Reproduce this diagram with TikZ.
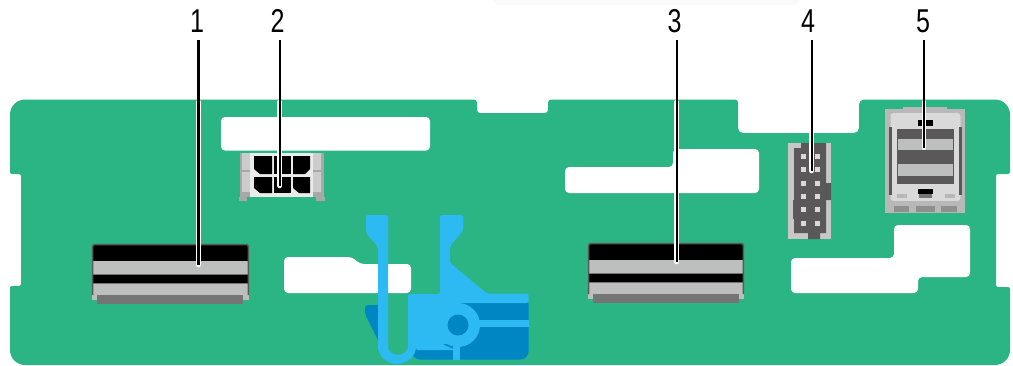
\documentclass[tikz,border=0pt]{standalone}
\usepackage{graphicx}
\usepackage{fontspec}
\setmainfont{Liberation Sans}
\definecolor{boardc}{HTML}{2BB585}
\definecolor{lblue}{HTML}{2DB9F2}
\definecolor{dblue}{HTML}{0086C3}
\definecolor{cgray}{HTML}{BDBFBE}
\definecolor{dgray}{HTML}{5A5858}
\definecolor{mgray}{HTML}{757575}
\definecolor{pgray}{HTML}{8F8F8F}
\definecolor{sgray}{HTML}{A8A8A8}
\definecolor{lgray}{HTML}{D9D9D9}
\tikzset{
  numlabel/.style={inner sep=0pt,anchor=south,text depth=7pt,font=\fontsize{33}{33}\selectfont},
  leaderhalo/.style={draw=white,line width=4.6pt,line cap=round},
  leaderline/.style={draw=black,line width=2.4pt},
  hole/.style={fill=white,rounded corners=4pt},
  pin/.style={fill=lgray}
}
\newcommand{\numtxt}[1]{\scalebox{0.76}[1]{#1}}
\begin{document}
\begin{tikzpicture}[x=1pt,y=-1pt]
\useasboundingbox (0,0) rectangle (1013,365);
% faint band at the top
\fill[black!2] (492,0) -- (800,0) -- (796,5) -- (497,5) -- cycle;
% board
\fill[boardc] (10,140) [rounded corners=15pt] -- (10,99.5) [rounded corners=3pt] -- (477,99.5) -- (477,113) -- (548,113)
  -- (548,99.5) -- (738,99.5) [rounded corners=5pt] -- (738,133) -- (859,133) -- (859,99.5) [rounded corners=15pt] -- (1010,99.5)
  [rounded corners=2pt] -- (1010,174) -- (996,174) -- (996,287) -- (1010,287) [rounded corners=15pt] -- (1010,365) -- (10,365)
  [rounded corners=2pt] -- (10,286) -- (21,286) -- (21,174) -- (10,174) -- cycle;
% holes
\fill[hole] (221,117) rectangle (430,150.5);
\fill[hole] (565,167) -- (673,167) -- (673,149) -- (759,149) -- (759,193) -- (565,193) -- cycle;
\fill[hole] (791,258) -- (894,258) -- (894,225) -- (970,225) -- (970,277) -- (918,277) -- (918,293) -- (791,293) -- cycle;
\fill[hole] (284,257) -- (352,257) -- (360,264) -- (411,264) -- (411,293) -- (284,293) -- cycle;
% latch, dark parts
\fill[dblue,rounded corners=3pt] (365,305) -- (382,305) -- (382,345) -- (379,342) -- (365,314) -- cycle;
\fill[dblue,rounded corners=8pt] (412,296) -- (528.5,296) -- (528.5,359.5) -- (412,359.5) -- cycle;
% latch, light parts
\fill[lblue,rounded corners=2pt] (440,294) -- (440,215) -- (463,215) -- (463,231) -- (450,246) -- (450,263) -- (487,293.5)
  -- (528.5,293.5) -- (528.5,303) -- (458,303) -- (458,344) -- (442,344) -- (456,350) -- (416,350) -- (416,344) -- (408,344) -- (408,294) -- cycle;
\fill[lblue] (458,325) circle (22);
\fill[lblue] (478,320) rectangle (528.5,327);
\fill[lblue] (453,344) rectangle (460,359.5);
\fill[dblue] (458,325) circle (10.5);
\fill[lblue,rounded corners=2pt] (378,247) -- (366,233) -- (366,215) -- (388,215) -- (388,260) -- (388,345)
  arc[start angle=180,end angle=0,radius=10] -- (408,330) -- (416,330) -- (416,345)
  arc[start angle=0,end angle=180,radius=19] -- cycle;
\fill[lblue] (378,246) rectangle (388,345);
% connector 1
\fill[cgray] (92,295) rectangle (249,300);
\fill[cgray] (93,261) rectangle (248,296);
\fill[black] (93,245) rectangle (248,261);
\fill[black] (93,275) rectangle (248,283);
\draw[mgray,line width=1pt] (93,274.5) -- (248,274.5) (93,283.5) -- (248,283.5);
\draw[dgray,line width=1.5pt,rounded corners=2pt] (92.7,295) -- (92.7,244.5) -- (248.3,244.5) -- (248.3,295);
\fill[mgray] (97,295) rectangle (243,304);
% connector 3
\fill[cgray] (588,294) rectangle (744,299);
\fill[cgray] (589,260) rectangle (743,295);
\fill[black] (589,244) rectangle (743,260);
\fill[black] (589,274) rectangle (743,282);
\draw[mgray,line width=1pt] (589,273.5) -- (743,273.5) (589,282.5) -- (743,282.5);
\draw[dgray,line width=1.5pt,rounded corners=2pt] (588.7,294) -- (588.7,243.5) -- (743.3,243.5) -- (743.3,294);
\fill[mgray] (593,294) rectangle (739,303);
% connector 2
\fill[sgray] (239.5,153) rectangle (324,197);
\fill[sgray] (239,197) rectangle (247,201);
\fill[sgray] (316,197) rectangle (325,201);
\fill[black!20] (242,153) rectangle (250,170);
\fill[black!20] (242,172) rectangle (250,192);
\fill[black!20] (313,153) rectangle (321,170);
\fill[black!20] (313,172) rectangle (321,192);
\fill[black!8] (250,153) rectangle (313,197);
\fill[black] (254,156) -- (272,156) -- (272,174) -- (260,174) -- (254,169) -- cycle;
\fill[black] (274,156) -- (291,156) -- (291,174) -- (274,174) -- cycle;
\fill[black] (293,156) -- (310,156) -- (310,169) -- (305,174) -- (293,174) -- cycle;
\fill[black] (254,177) -- (272,177) -- (272,193) -- (260,193) -- (254,188) -- cycle;
\fill[black] (274,177) -- (291,177) -- (291,193) -- (274,193) -- cycle;
\fill[black] (293,177) -- (310,177) -- (310,193) -- (299,193) -- (293,188) -- cycle;
% connector 4
\fill[black!22] (788,143) rectangle (831,239);
\fill[dgray] (801,143) -- (826,143) -- (826,183) -- (831,183) -- (831,200) -- (826,200) -- (826,233) -- (820,233) -- (820,239)
  -- (808,239) -- (808,233) -- (794,233) -- (794,219) -- (793,219) -- (793,200) -- (794,200) -- (794,148) -- (801,148) -- cycle;
\foreach \py in {156.3,169.7,183,196.3,209.7,223}{
  \fill[pin] (800.5,\py-2.5) rectangle +(5,5);
  \fill[pin] (814.5,\py-2.5) rectangle +(5,5);
}
% connector 5
\fill[black!28] (885,109) rectangle (965,212.7);
\fill[black!28] (903,107) rectangle (947,110);
\fill[lgray,rounded corners=3pt] (890.5,201) -- (890.5,113) -- (960.5,113) -- (960.5,201) -- cycle;
\fill[dgray] (888.7,127) rectangle (892,195);
\fill[dgray] (959,127) rectangle (962,195);
\fill[dgray] (896.7,129) rectangle (954,184);
\fill[cgray] (898,139.3) rectangle (952.7,150);
\fill[cgray] (898,164.3) rectangle (952.7,175.7);
\fill[black] (917.7,120) rectangle (933,125.7);
\fill[black!28] (897,194) rectangle (907,198);
\fill[black!28] (945,194) rectangle (955,198);
\fill[mgray] (919,194) rectangle (932,198);
\fill[black] (918,189) rectangle (933,194);
\fill[black!28] (885,201) rectangle (965,212.7);
\fill[pgray] (894,205.7) rectangle (909,212);
\fill[pgray] (916,205.7) rectangle (935,212);
\fill[pgray] (941,205.7) rectangle (957,212);
% labels
\node[numlabel] (n1) at (197,40) {\numtxt{1}};
\node[numlabel] (n2) at (277.6,40) {\numtxt{2}};
\node[numlabel] (n3) at (674.6,40) {\numtxt{3}};
\node[numlabel] (n4) at (808,40) {\numtxt{4}};
\node[numlabel] (n5) at (923,40) {\numtxt{5}};
\coordinate (e1) at (198.5,265);
\coordinate (e2) at (279.7,186);
\coordinate (e3) at (676.7,262);
\coordinate (e4) at (811.7,171);
\coordinate (e5) at (924,147.7);
\foreach \i in {1,...,5}{
  \draw[leaderhalo] (n\i.south -| e\i) ++(0,62) -- (e\i);
  \draw[leaderline] (n\i.south -| e\i) -- (e\i);
}
\end{tikzpicture}
\end{document}
